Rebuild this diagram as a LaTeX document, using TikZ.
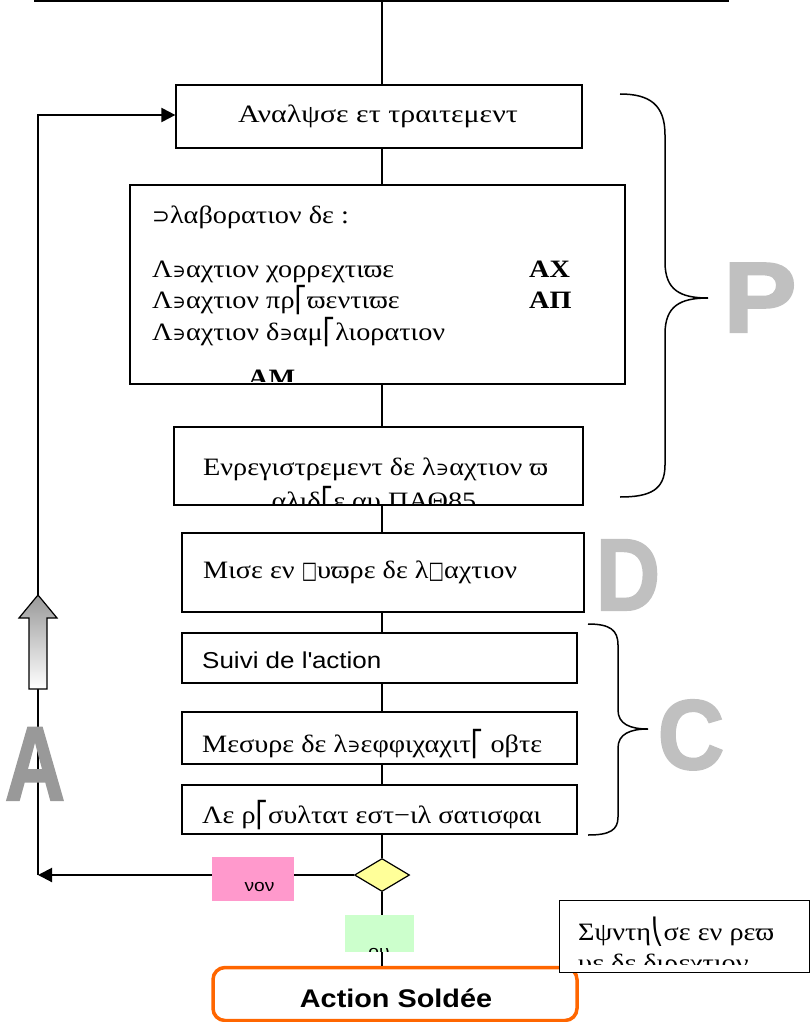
\documentclass[tikz,border=0pt]{standalone}
\usepackage{fontspec}
\setmainfont{Liberation Serif}[FakeStretch=1.13]
\setsansfont{Liberation Sans}[FakeStretch=1.13]
\newfontfamily\symf{DejaVu Serif}
\newfontfamily\symsf{DejaVu Sans}
\newfontfamily\bigf{Liberation Sans}[FakeBold=2]
\usetikzlibrary{shapes.geometric,arrows.meta}
\definecolor{bigP}{HTML}{C0C0C0}
\definecolor{bigA}{HTML}{999999}
\definecolor{nonc}{HTML}{FF99CC}
\definecolor{ouic}{HTML}{CCFFCC}
\definecolor{decc}{HTML}{FFFF99}
\definecolor{solc}{HTML}{FF6600}
\newcommand\cxe{{\symf\scalebox{0.72}{∋}}}
\newcommand\cxa{{\symsf ⎡}}
\newcommand\cxg{{\symsf ⎝}}
\newcommand\cxb{{\symsf\scalebox{0.65}[0.95]{□}}}
\newcommand\cxs{{\symsf\scalebox{0.85}{⊃}}}
\newcommand\sq{\XeTeXglyph\XeTeXcharglyph"0027\relax}
\tikzset{
  boxn/.style={draw, line width=1.2pt, fill=white, inner sep=0pt},
  gtxt/.style={inner sep=0pt, font=\fontsize{25}{29}\selectfont},
  btxt/.style={inner sep=0pt, font=\bfseries\fontsize{25}{29}\selectfont},
  stxt/.style={inner sep=0pt, font=\sffamily\fontsize{23}{27}\selectfont},
  conn/.style={line width=1.2pt},
  thickarr/.style={line width=2pt, -{Triangle[length=14pt,width=14pt]}},
  bigl/.style={inner sep=0pt, anchor=base, font=\bigf\bfseries\fontsize{100}{100}\selectfont},
  bracep/.style={line width=1.5pt},
}
\begin{document}
\begin{tikzpicture}[x=1pt,y=-1pt]
\useasboundingbox (0,0) rectangle (811,1022);
\coordinate (T) at (382,0);
\coordinate (TL) at (34,1);
\coordinate (TR) at (729,1);
\coordinate (L) at (38,875);
\coordinate (LT) at (38,115);
% top line
\draw[conn] (TL) -- (TR);
% boxes
\node[boxn, minimum width=406pt, minimum height=63pt] (b1) at (379,116.5) {};
\node[boxn, minimum width=495pt, minimum height=199pt] (b2) at (377.5,284.5) {};
\node[boxn, minimum width=409pt, minimum height=78pt] (b3) at (378.5,466) {};
\node[boxn, minimum width=402pt, minimum height=79pt] (b4) at (383,572.5) {};
\node[boxn, minimum width=395pt, minimum height=50pt] (b5) at (379.5,658) {};
\node[boxn, minimum width=395pt, minimum height=52pt] (b6) at (379.5,738) {};
\node[boxn, minimum width=395pt, minimum height=49pt] (b7) at (379.5,809.5) {};
\node[draw, line width=1.2pt, fill=decc, shape=diamond, inner sep=0pt, minimum width=55pt, minimum height=33pt] (d) at (382,875) {};
\node[draw=solc, line width=3.5pt, rounded corners=12pt, minimum width=364pt, minimum height=53pt, inner sep=0pt] (sold) at (395,994) {};
\node[boxn, line width=1.5pt, minimum width=250pt, minimum height=72pt] (synth) at (684.5,936.5) {};
% trunk connectors
\draw[conn] (T) -- (b1.north -| T);
\draw[conn] (b1.south -| T) -- (b2.north -| T);
\draw[conn] (b2.south -| T) -- (b3.north -| T);
\draw[conn] (b3.south -| T) -- (b4.north -| T);
\draw[conn] (b4.south -| T) -- (b5.north -| T);
\draw[conn] (b5.south -| T) -- (b6.north -| T);
\draw[conn] (b6.south -| T) -- (b7.north -| T);
\draw[conn] (b7.south -| T) -- (d.north);
\draw[conn] (d.south) -- (sold.north -| d.south);
% texts
\node[gtxt, anchor=base] (t1) at (378,123) {\scalebox{1.06}[1]{Αναλψσε ετ τραιτεμεντ}};
\node[gtxt, anchor=base west] (t2a) at (152,223) {\cxs λαβορατιον δε :};
\node[gtxt, anchor=base west] (t2b) at (152,277) {Λ\cxe αχτιον χορρεχτιϖε};
\node[gtxt, anchor=base west] (t2c) at (152,308) {Λ\cxe αχτιον πρ\cxa ϖεντιϖε};
\node[gtxt, anchor=base west] (t2d) at (152,340) {Λ\cxe αχτιον δ\cxe αμ\cxa λιορατιον};
\node[btxt, anchor=base west] (t2e) at (529,277) {ΑΧ};
\node[btxt, anchor=base west] (t2f) at (529,308) {ΑΠ};
\begin{scope}
\clip (131,186) rectangle (624,381);
\node[btxt, anchor=base west] (t2g) at (248,386) {ΑΜ};
\end{scope}
\node[gtxt, anchor=base west] (t3a) at (203,475) {Ενρεγιστρεμεντ δε λ\cxe αχτιον ϖ};
\begin{scope}
\clip (175,428) rectangle (582,503);
\node[gtxt, anchor=base] (t3b) at (374,509) {αλιδ\cxa ε αυ ΠΑΘ85};
\end{scope}
\node[gtxt, anchor=base west] (t4) at (203,578) {Μισε εν \cxb υϖρε δε λ\cxb αχτιον};
\node[stxt, anchor=base west] (t5) at (202,668) {Suivi de l\sq action};
\node[gtxt, anchor=base west] (t6) at (202,752) {Μεσυρε δε λ\cxe εφφιχαχιτ\cxa\ οβτε};
\node[gtxt, anchor=base west] (t7) at (202,823) {Λε ρ\cxa συλτατ εστ−ιλ σατισφαι};
\node[inner sep=0pt, anchor=base, font=\sffamily\bfseries\fontsize{25.5}{28}\selectfont] (t8) at (396,1007) {Action Soldée};
\node[gtxt, anchor=base west] (t9a) at (578,940) {Σψντη\cxg σε εν ρεϖ};
\begin{scope}
\clip (560,901) rectangle (809,964);
\node[gtxt, anchor=base west] (t9b) at (578,971) {υε δε διρεχτιον};
\end{scope}
% loop back
\draw[thickarr] (d.west) -- (L);
\node[fill=nonc, minimum width=82pt, minimum height=44pt, inner sep=0pt] (non) at (253,879) {};
\node[inner sep=0pt, anchor=base, font=\sffamily\fontsize{17}{20}\selectfont] (nont) at (259.5,891) {νον};
\node[fill=ouic, minimum width=69pt, minimum height=37pt, inner sep=0pt] (oui) at (379.5,933.5) {};
\begin{scope}
\clip (345,915) rectangle (414,951);
\node[inner sep=0pt, anchor=base, font=\sffamily\fontsize{17}{20}\selectfont] (ouit) at (379,957) {ου};
\end{scope}
\coordinate (ba) at (38,689);
\coordinate (bt) at (38,595);
\draw[line width=1.4pt] (L) -- (ba);
\node[bigl, text=bigA] (bigA) at (35,800) {\scalebox{0.83}[1.05]{A}};
\shade[top color=bigA, bottom color=white, draw=black, line width=1.2pt]
  (bt) -- (57,618) -- (47,618) -- (47,689) -- (29,689) -- (29,618) -- (19,618) -- cycle;
\draw[line width=2pt, -{Triangle[length=14pt,width=14pt]}] (bt) -- (LT) -- (LT -| b1.west);
% big letters
\node[bigl, text=bigP] (bigP) at (760,332) {\scalebox{1.1}[1]{P}};
\node[bigl, text=bigP] (bigD) at (628,610) {\scalebox{0.89}[1.02]{D}};
\node[bigl, text=bigP] (bigC) at (691,769) {\scalebox{0.92}[0.99]{C}};
% braces
\draw[bracep] (620,94) .. controls (650,94) and (665,105) .. (665,135) -- (665,262)
  .. controls (665,290) and (680,298) .. (708,298)
  .. controls (680,298) and (665,306) .. (665,334) -- (665,465)
  .. controls (665,490) and (650,497) .. (620,497);
\draw[bracep] (588,624) .. controls (610,624) and (618,630) .. (618,645) -- (618,710)
  .. controls (618,724) and (630,729) .. (648,729)
  .. controls (630,729) and (618,734) .. (618,748) -- (618,817)
  .. controls (618,830) and (610,835) .. (588,835);
\end{tikzpicture}
\end{document}
